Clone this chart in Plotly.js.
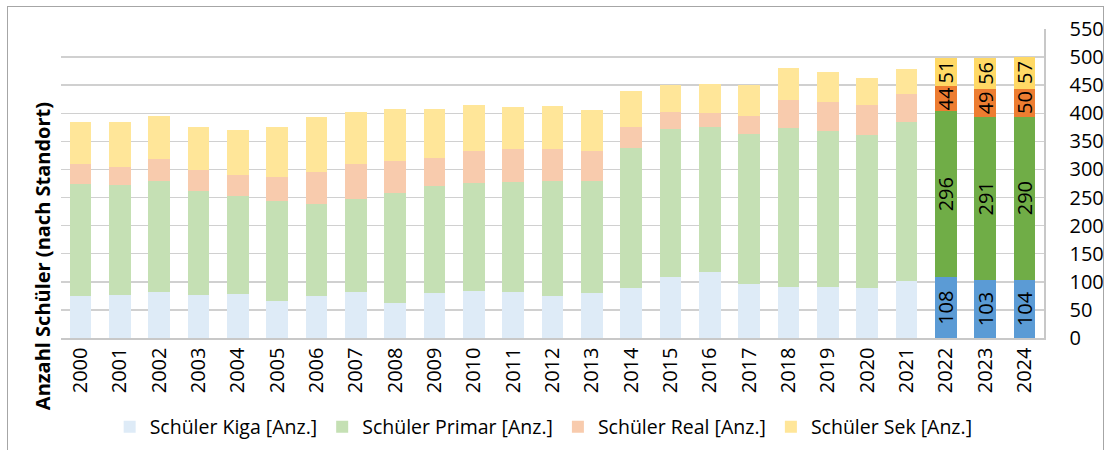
<!DOCTYPE html>
<html>
<head>
<meta charset="utf-8">
<script src="https://cdn.plot.ly/plotly-3.0.1.min.js"></script>
<style>
  html, body { margin: 0; padding: 0; background: #fff; }
  #wrap { position: relative; width: 1108px; height: 450px; }
  #chart { position: absolute; left: 0; top: 0; width: 1108px; height: 450px; }
  #frame { position: absolute; left: 7px; top: 6px; width: 1095px; height: 460px; border: 1px solid #a6a6a6; pointer-events: none; }
</style>
</head>
<body>
<div id="wrap">
  <div id="chart"></div>
  <div id="frame"></div>
</div>
<script>
const years = ['2000','2001','2002','2003','2004','2005','2006','2007','2008','2009','2010','2011','2012','2013','2014','2015','2016','2017','2018','2019','2020','2021','2022','2023','2024'];
const kiga   = [75,76,81,76,79,66,75,82,63,80,83,82,75,80,89,108,117,96,91,91,89,102,108,103,104];
const primar = [200,197,199,185,174,177,164,165,195,190,193,195,204,199,250,264,258,267,283,278,272,283,296,291,290];
const real   = [34,32,38,38,38,44,57,62,57,50,57,60,58,54,36,30,26,33,49,51,53,49,44,49,50];
const sek    = [76,80,77,76,80,89,98,94,92,87,82,74,76,72,64,49,52,54,57,53,48,45,51,56,57];
const labelledYears = ['2022','2023','2024'];
const seriesNames = ['Schüler Kiga [Anz.]','Schüler Primar [Anz.]','Schüler Real [Anz.]','Schüler Sek [Anz.]'];
const lightColors = ['#DEEBF7','#C5E0B4','#F8CBAD','#FFE699'];
const darkColors  = ['#5B9BD5','#70AD47','#ED7D31','#FFD966'];
const boundaryTicks = [-0.5, 4.5, 9.5, 14.5, 19.5];
const yTitle = 'Anzahl Schüler (nach Standort)';

const FONT = 'Open Sans, Noto Sans, DejaVu Sans, sans-serif';
const allSeries = [kiga, primar, real, sek];

const traces = allSeries.map((vals, i) => ({
  type: 'bar',
  name: seriesNames[i],
  x: years,
  y: vals,
  marker: {
    color: years.map(yr => labelledYears.includes(yr) ? darkColors[i] : lightColors[i]),
    line: {width: 0}
  },
  text: years.map((yr, j) => labelledYears.includes(yr) ? String(vals[j]) : ''),
  textposition: 'inside',
  insidetextanchor: 'middle',
  textangle: -90,
  constraintext: 'none',
  textfont: {family: FONT, size: 20, color: '#000'},
  hoverinfo: 'skip',
  showlegend: true
}));

const layout = {
  width: 1108,
  height: 450,
  margin: {l: 61, r: 64, t: 29, b: 112, autoexpand: false},
  paper_bgcolor: '#fff',
  plot_bgcolor: '#fff',
  barmode: 'stack',
  bargap: 0.45,
  font: {family: FONT, color: '#000'},
  xaxis: {
    type: 'category',
    tickangle: -90,
    tickfont: {family: FONT, size: 20, color: '#000'},
    showline: true,
    linecolor: '#c8c8c8',
    linewidth: 1.5,
    ticks: '',
    showgrid: false,
    automargin: false,
    fixedrange: true
  },
  xaxis2: {
    overlaying: 'x',
    anchor: 'y',
    range: [-0.5, 24.5],
    tickvals: boundaryTicks,
    ticks: 'inside',
    ticklen: 7,
    tickwidth: 1.5,
    tickcolor: '#c8c8c8',
    showticklabels: false,
    showgrid: false,
    zeroline: false,
    showline: false,
    automargin: false
  },
  yaxis: {
    side: 'right',
    range: [0, 550],
    dtick: 50,
    tick0: 0,
    gridcolor: '#d0d0d0',
    gridwidth: 1.5,
    showline: true,
    linecolor: '#c8c8c8',
    linewidth: 1.5,
    zeroline: false,
    tickfont: {family: FONT, size: 20, color: '#000'},
    ticklabelstandoff: 20,
    automargin: false,
    fixedrange: true
  },
  legend: {
    orientation: 'h',
    x: 0.491,
    xanchor: 'center',
    yref: 'container',
    y: 0.051,
    yanchor: 'middle',
    traceorder: 'normal',
    font: {family: FONT, size: 19.5, color: '#000'},
    itemclick: false
  },
  annotations: [{
    text: yTitle,
    xref: 'paper', yref: 'paper',
    x: -0.0193, y: 0.265,
    xanchor: 'center', yanchor: 'middle',
    textangle: -90,
    showarrow: false,
    font: {family: FONT, size: 20, color: '#000', weight: 'bold'}
  }]
};

Plotly.newPlot('chart', traces, layout, {displayModeBar: false, staticPlot: true}).then(() => {
  document.querySelectorAll('.legend .traces').forEach((g, i) => {
    g.querySelectorAll('.legendpoints path').forEach(p => {
      p.style.fill = lightColors[i];
    });
  });
});
</script>
</body>
</html>
